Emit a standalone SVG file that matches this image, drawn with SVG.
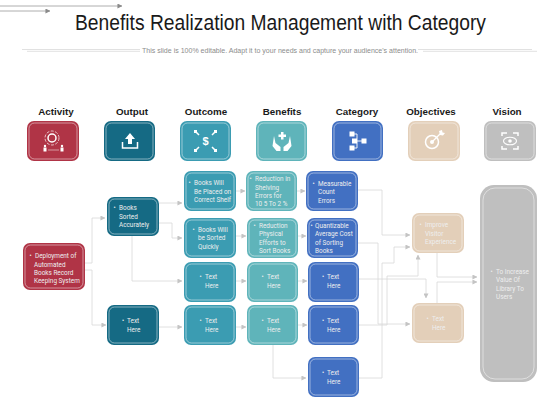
<svg xmlns="http://www.w3.org/2000/svg" width="560" height="420" viewBox="0 0 560 420">
<style>
text{font-family:"Liberation Sans",Arial,sans-serif}
.t{font-size:6.4px;fill:#eeeeee;font-family:Roboto,"Liberation Sans",sans-serif}
.h{font-size:9.8px;font-weight:700;fill:#1a1a1a;text-anchor:middle}
.in{fill:none;stroke:#fff;stroke-opacity:.6;stroke-width:.8}
.c{fill:none;stroke:#d2d2d2;stroke-width:.8}
.ca{fill:none;stroke:#d8d8d8;stroke-width:.8;marker-end:url(#a)}
.ico{fill:#fff}
.icl{fill:none;stroke:#fff;stroke-width:1.5}
.red{fill:#b03446}.dt{fill:#156a84}.te{fill:#3b9cb2}.lt{fill:#5fb4ba}.bl{fill:#4270c2}.be{fill:#e3cfb9}.gr{fill:#bfbfbf}
.hl{fill:none;stroke:#d4d4d4;stroke-width:.7}
</style>
<defs>
<marker id="a" viewBox="0 0 6 6" refX="5.5" refY="3" markerWidth="5" markerHeight="5" markerUnits="userSpaceOnUse" orient="auto"><path d="M0 0L6 3L0 6z" fill="#c4c4c4"/></marker>
<marker id="b" viewBox="0 0 6 6" refX="5.5" refY="3" markerWidth="5" markerHeight="5" markerUnits="userSpaceOnUse" orient="auto"><path d="M0 0L6 3L0 6z" fill="#8a8a8a"/></marker>
</defs>
<rect width="560" height="420" fill="#fff"/>
<g id="decor">
<path d="M0 6H122" fill="none" stroke="#999" stroke-width=".8" marker-end="url(#b)"/>
<path d="M0 11H50" fill="none" stroke="#999" stroke-width=".8" marker-end="url(#b)"/>
<path class="hl" d="M22 49.5H140M27 51.3H140M418 49.5H532M423 51.3H537"/>
</g>
<text x="75" y="30" font-size="22" fill="#1a1a1a" textLength="411" lengthAdjust="spacingAndGlyphs">Benefits Realization Management with Category</text>
<text x="142" y="53" font-size="8" fill="#8c8c8c" textLength="276" lengthAdjust="spacingAndGlyphs">This slide is 100% editable. Adapt it to your needs and capture your audience's attention.</text>
<g id="headers">
<text class="h" x="56" y="115">Activity</text>
<text class="h" x="132" y="115">Output</text>
<text class="h" x="206" y="115">Outcome</text>
<text class="h" x="282" y="115">Benefits</text>
<text class="h" x="357" y="115">Category</text>
<text class="h" x="431" y="115">Objectives</text>
<text class="h" x="507" y="115">Vision</text>
</g>
<g id="connectors">
<path class="ca" d="M85 263H92V218H105"/>
<path class="ca" d="M85 270H92V325H106"/>
<path class="ca" d="M159 203H182"/>
<path class="ca" d="M159 223H172V238H182"/>
<path class="ca" d="M132 236V281H182"/>
<path class="ca" d="M159 327H182"/>
<path class="ca" d="M236 191H245"/>
<path class="ca" d="M236 236H246"/>
<path class="ca" d="M236 281H246"/>
<path class="ca" d="M236 327H246"/>
<path class="ca" d="M297 191H305"/>
<path class="ca" d="M298 236H306"/>
<path class="ca" d="M298 281H307"/>
<path class="ca" d="M298 325H307"/>
<path class="ca" d="M273 345V378H306"/>
<path class="ca" d="M358 190H382V235H410"/>
<path class="ca" d="M358 243H378V324H410"/>
<path class="ca" d="M359 325H387V276H418V255"/>
<path class="ca" d="M359 378H382V263H394V247H410"/>
<path class="ca" d="M359 279H426V298"/>
<path class="ca" d="M437 253V277H477"/>
<path class="ca" d="M437 303V282H477"/>
</g>
<g id="icon-activity"><rect class="red" x="27" y="121" width="52" height="40" rx="7"/><rect class="in" x="29" y="123" width="48" height="36" rx="5.5"/>
<circle class="icl" cx="52" cy="138" r="4" stroke-width="1.2"/><circle fill="none" stroke="#fff" stroke-width=".7" cx="52" cy="138" r="7" stroke-dasharray="3 1.5"/>
<circle class="ico" cx="45" cy="146" r="1.2"/><path class="ico" d="M43.500 147.500h3v4h-3z"/><circle class="ico" cx="62" cy="146" r="1.2"/><path class="ico" d="M60.500 147.500h3v4h-3z"/><path d="M48 150H59" stroke="#fff" stroke-width=".5"/></g>
<g id="icon-output"><rect class="dt" x="104" y="121" width="51" height="40" rx="7"/><rect class="in" x="106" y="123" width="47" height="36" rx="5.5"/>
<path class="ico" d="M130 133l5 6h-3v5h-4v-5h-3z"/><path class="icl" d="M122.500 142v6h15v-6"/></g>
<g id="icon-outcome"><rect class="te" x="180" y="121" width="51" height="40" rx="7"/><rect class="in" x="182" y="123" width="47" height="36" rx="5.500"/>
<text x="205.500" y="145" font-size="11" font-weight="700" fill="#fff" text-anchor="middle">$</text>
<path class="icl" d="M199 135l-3-3M212 135l3-3M199 147l-3 3M212 147l3 3" stroke-width="1.200"/><path class="ico" d="M197 133h-3v-3h3zM214 133h3v-3h-3zM197 149h-3v3h3zM214 149h3v3h-3z"/></g>
<g id="icon-benefits"><rect class="lt" x="256" y="121" width="51" height="40" rx="7"/><rect class="in" x="258" y="123" width="47" height="36" rx="5.500"/>
<path class="ico" d="M281 132h2.500v2.500H286v2.500h-2.500v2.500H281V137h-2.500v-2.500H281z"/><path class="ico" d="M274 136l1.500 7 5 4v4h-4l-4-5zM290 136l-1.500 7-5 4v4h4l4-5z"/></g>
<g id="icon-category"><rect class="bl" x="332" y="121" width="51" height="40" rx="7"/><rect class="in" x="334" y="123" width="47" height="36" rx="5.500"/>
<path class="ico" d="M349.500 131.500h5v5h-5zM352 138.500h5v5h-5zM361.500 138.500h5v5h-5zM349.500 145.500h5v5h-5z"/><path d="M354 134H357V148H354M357 141H362" fill="none" stroke="#fff" stroke-width=".9"/></g>
<g id="icon-objectives"><rect class="be" x="408" y="121" width="52" height="40" rx="7"/><rect class="in" x="410" y="123" width="48" height="36" rx="5.500"/>
<circle class="icl" cx="432" cy="142" r="6.500"/><circle class="ico" cx="432" cy="142" r="2"/><path d="M432 142L441 133" stroke="#fff" stroke-width="1.300"/><path class="ico" d="M439 131l3-1 .500 2.500 2.500.500-2 2.500-3-.500z"/></g>
<g id="icon-vision"><rect class="gr" x="484" y="121" width="52" height="40" rx="7"/><rect class="in" x="486" y="123" width="48" height="36" rx="5.500"/>
<path class="icl" d="M502 136v-3h5M518 136v-3h-5M502 146v3h5M518 146v3h-5" stroke-width="1.100"/><ellipse fill="none" stroke="#fff" stroke-width="1.100" cx="510" cy="141" rx="6.500" ry="3.800"/><circle class="ico" cx="510" cy="141" r="1.800"/></g>
<g id="n-red"><rect class="red" x="23" y="243" width="62" height="47" rx="7"/><rect class="in" x="25" y="245" width="58" height="43" rx="5.500"/>
<text class="t"><tspan x="29.500" y="258">•</tspan><tspan x="35" y="258">Deployment of</tspan><tspan x="34" y="266.500">Automated</tspan><tspan x="34" y="274.500">Books Record</tspan><tspan x="34" y="283">Keeping System</tspan></text></g>
<g id="n-sorted"><rect class="dt" x="107" y="197" width="52" height="39" rx="7"/><rect class="in" x="109" y="199" width="48" height="35" rx="5.500"/>
<text class="t"><tspan x="113.500" y="210">•</tspan><tspan x="119" y="210">Books</tspan><tspan x="119" y="218.500">Sorted</tspan><tspan x="119" y="227">Accurately</tspan></text></g>
<g id="n-out4"><rect class="dt" x="107" y="305" width="52" height="40" rx="7"/><rect class="in" x="109" y="307" width="48" height="36" rx="5.500"/>
<text class="t"><tspan x="122" y="323">•</tspan><tspan x="127" y="323">Text</tspan><tspan x="127" y="332">Here</tspan></text></g>
<g id="n-oc1"><rect class="te" x="184" y="171" width="52" height="40" rx="7"/><rect class="in" x="186" y="173" width="48" height="36" rx="5.500"/>
<text class="t"><tspan x="188.500" y="185">•</tspan><tspan x="194" y="185">Books Will</tspan><tspan x="194" y="193.500">Be Placed on</tspan><tspan x="194" y="202">Correct Shelf</tspan></text></g>
<g id="n-oc2"><rect class="te" x="184" y="218" width="52" height="40" rx="7"/><rect class="in" x="186" y="220" width="48" height="36" rx="5.500"/>
<text class="t"><tspan x="192.500" y="232">•</tspan><tspan x="198" y="232">Books Will</tspan><tspan x="198" y="240">be Sorted</tspan><tspan x="198" y="248.500">Quickly</tspan></text></g>
<g id="n-oc3"><rect class="te" x="184" y="262" width="52" height="40" rx="7"/><rect class="in" x="186" y="264" width="48" height="36" rx="5.500"/>
<text class="t"><tspan x="199.500" y="279">•</tspan><tspan x="205" y="279">Text</tspan><tspan x="205" y="288">Here</tspan></text></g>
<g id="n-oc4"><rect class="te" x="184" y="305" width="52" height="40" rx="7"/><rect class="in" x="186" y="307" width="48" height="36" rx="5.500"/>
<text class="t"><tspan x="199.500" y="323">•</tspan><tspan x="205" y="323">Text</tspan><tspan x="205" y="332">Here</tspan></text></g>
<g id="n-be1"><rect class="lt" x="246" y="171" width="51" height="40" rx="7"/><rect class="in" x="248" y="173" width="47" height="36" rx="5.500"/>
<text class="t"><tspan x="249.500" y="181">•</tspan><tspan x="255" y="181">Reduction in</tspan><tspan x="255" y="189.500">Shelving</tspan><tspan x="255" y="198">Errors for</tspan><tspan x="255" y="206">10 5 To 2 %</tspan></text></g>
<g id="n-be2"><rect class="lt" x="247" y="218" width="51" height="40" rx="7"/><rect class="in" x="249" y="220" width="47" height="36" rx="5.500"/>
<text class="t"><tspan x="253.500" y="228">•</tspan><tspan x="259" y="228">Reduction</tspan><tspan x="259" y="236">Physical</tspan><tspan x="259" y="244.500">Efforts to</tspan><tspan x="259" y="253">Sort Books</tspan></text></g>
<g id="n-be3"><rect class="lt" x="247" y="262" width="51" height="40" rx="7"/><rect class="in" x="249" y="264" width="47" height="36" rx="5.500"/>
<text class="t"><tspan x="261.500" y="279">•</tspan><tspan x="267" y="279">Text</tspan><tspan x="267" y="288">Here</tspan></text></g>
<g id="n-be4"><rect class="lt" x="247" y="305" width="51" height="40" rx="7"/><rect class="in" x="249" y="307" width="47" height="36" rx="5.500"/>
<text class="t"><tspan x="261.500" y="323">•</tspan><tspan x="267" y="323">Text</tspan><tspan x="267" y="332">Here</tspan></text></g>
<g id="n-ca1"><rect class="bl" x="306" y="171" width="52" height="40" rx="7"/><rect class="in" x="308" y="173" width="48" height="36" rx="5.500"/>
<text class="t"><tspan x="312.500" y="186">•</tspan><tspan x="318" y="186">Measurable</tspan><tspan x="318" y="194">Count</tspan><tspan x="318" y="202.500">Errors</tspan></text></g>
<g id="n-ca2"><rect class="bl" x="307" y="218" width="51" height="40" rx="7"/><rect class="in" x="309" y="220" width="47" height="36" rx="5.500"/>
<text class="t"><tspan x="310.500" y="228">•</tspan><tspan x="315" y="228">Quantizable</tspan><tspan x="315" y="236">Average Cost</tspan><tspan x="315" y="244.500">of Sorting</tspan><tspan x="315" y="253">Books</tspan></text></g>
<g id="n-ca3"><rect class="bl" x="308" y="262" width="51" height="40" rx="7"/><rect class="in" x="310" y="264" width="47" height="36" rx="5.500"/>
<text class="t"><tspan x="322" y="279">•</tspan><tspan x="327" y="279">Text</tspan><tspan x="327" y="288">Here</tspan></text></g>
<g id="n-ca4"><rect class="bl" x="308" y="305" width="51" height="40" rx="7"/><rect class="in" x="310" y="307" width="47" height="36" rx="5.500"/>
<text class="t"><tspan x="322" y="323">•</tspan><tspan x="327" y="323">Text</tspan><tspan x="327" y="332">Here</tspan></text></g>
<g id="n-ca5"><rect class="bl" x="308" y="357" width="51" height="40" rx="7"/><rect class="in" x="310" y="359" width="47" height="36" rx="5.500"/>
<text class="t"><tspan x="322" y="375">•</tspan><tspan x="327" y="375">Text</tspan><tspan x="327" y="384">Here</tspan></text></g>
<g id="n-ob1"><rect class="be" x="412" y="213" width="52" height="40" rx="7"/><rect class="in" x="414" y="215" width="48" height="36" rx="5.500"/>
<text class="t"><tspan x="419.500" y="227">•</tspan><tspan x="425" y="227">Improve</tspan><tspan x="425" y="235.500">Visitor</tspan><tspan x="425" y="244">Experience</tspan></text></g>
<g id="n-ob2"><rect class="be" x="412" y="303" width="52" height="40" rx="7"/><rect class="in" x="414" y="305" width="48" height="36" rx="5.500"/>
<text class="t"><tspan x="426.500" y="321">•</tspan><tspan x="432" y="321">Text</tspan><tspan x="432" y="330">Here</tspan></text></g>
<g id="n-vi"><rect class="gr" x="480" y="185" width="57" height="197" rx="14"/><rect class="in" x="483" y="188" width="51" height="191" rx="12"/>
<text class="t"><tspan x="490.500" y="274">•</tspan><tspan x="496" y="274">To Increase</tspan><tspan x="496" y="282">Value Of</tspan><tspan x="496" y="290.500">Library To</tspan><tspan x="496" y="299">Users</tspan></text></g>
</svg>
